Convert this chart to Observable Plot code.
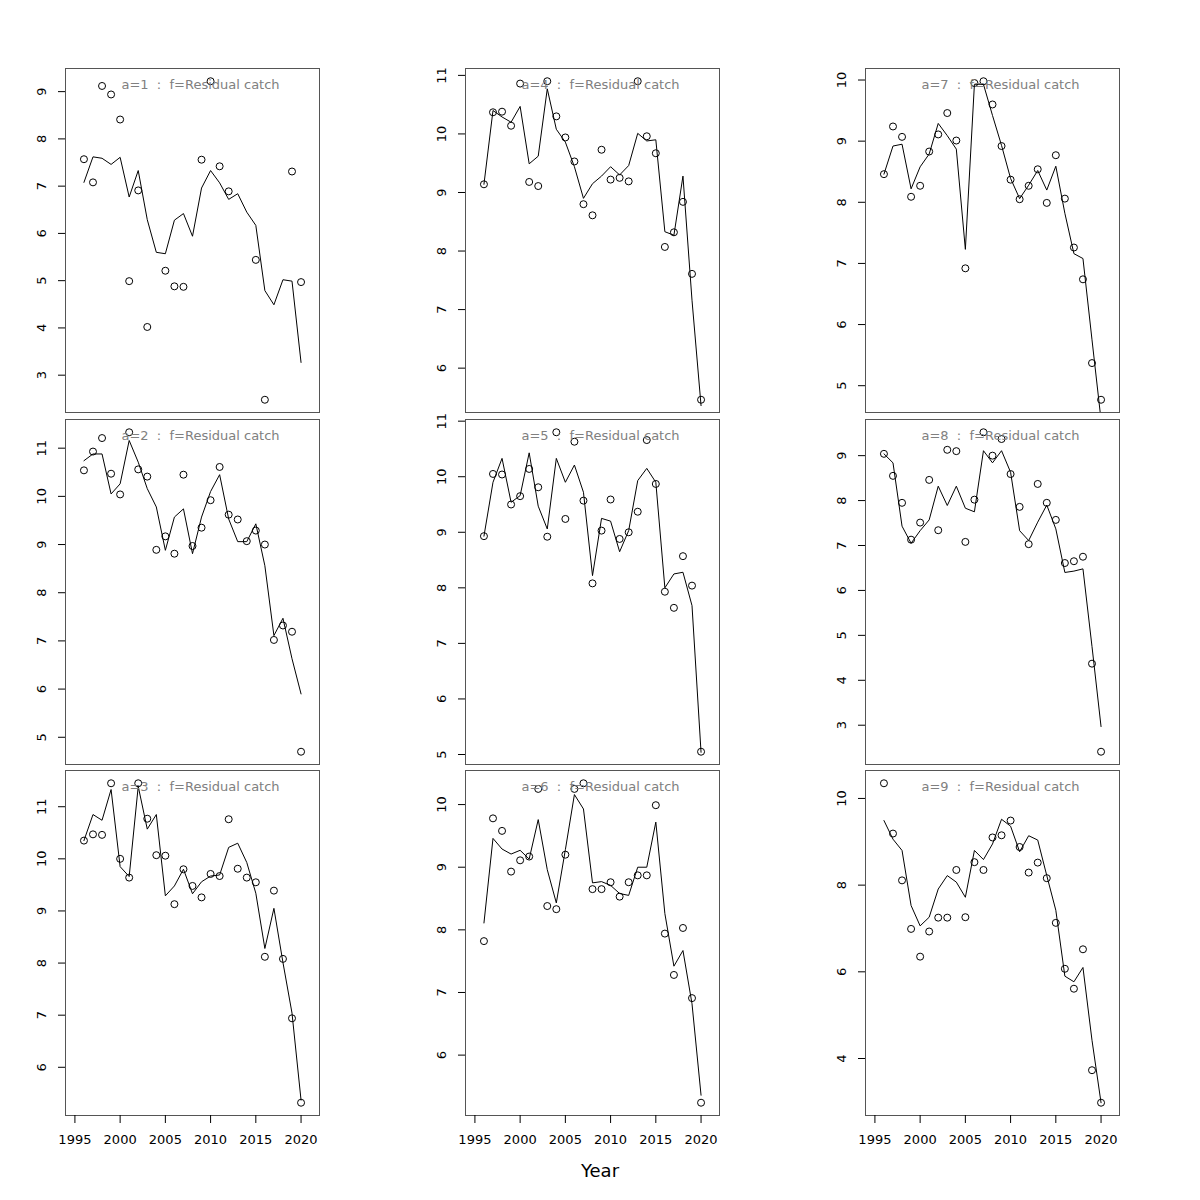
<!DOCTYPE html>
<html>
<head>
<meta charset="utf-8">
<script src="https://cdn.jsdelivr.net/npm/d3@7"></script>
<script src="https://cdn.jsdelivr.net/npm/@observablehq/plot@0.6"></script>
<style>
  body { margin: 0; background: white; font-family: "DejaVu Sans", sans-serif; }
  #wrap { position: relative; width: 1200px; height: 1200px; background: white; overflow: hidden; }
  #wrap .cell { position: absolute; }
  #wrap svg text { white-space: pre; }
  #xlabel { position: absolute; left: 0; width: 1200px; top: 1160px; text-align: center; font-size: 18px; color: #000; }
</style>
</head>
<body>
<div id="wrap"><div id="xlabel">Year</div></div>
<script>
// ---------- data ----------
const years = [1996,1997,1998,1999,2000,2001,2002,2003,2004,2005,2006,2007,2008,2009,2010,2011,2012,2013,2014,2015,2016,2017,2018,2019,2020];
const xLimits = [1995, 2021];
const xTicks = [1995, 2000, 2005, 2010, 2015, 2020];
const fleetName = "Residual catch";
const ages = [1,2,3,4,5,6,7,8,9];
const yTickStep = [1,1,1,1,1,1,1,1,2];

const obs1 = [7.57,7.08,9.12,8.94,8.41,4.99,6.91,4.02,null,5.21,4.88,4.87,null,7.56,9.22,7.42,6.89,null,null,5.44,2.48,null,null,7.31,4.97];
const fit1 = [7.08,7.62,7.59,7.46,7.61,6.77,7.33,6.29,5.60,5.57,6.28,6.42,5.94,6.96,7.33,7.07,6.72,6.84,6.45,6.17,4.79,4.49,5.02,4.99,3.27];

const obs2 = [10.54,10.93,11.21,10.47,10.04,11.33,10.56,10.41,8.89,9.17,8.81,10.45,8.97,9.35,9.92,10.61,9.62,9.52,9.07,9.29,9.00,7.02,7.32,7.19,4.70];
const fit2 = [10.74,10.88,10.88,10.05,10.26,11.16,10.71,10.16,9.78,8.88,9.57,9.74,8.81,9.57,10.10,10.45,9.53,9.06,9.06,9.43,8.56,7.11,7.47,6.63,5.90];

const obs3 = [10.35,10.47,10.46,11.45,10.00,9.64,11.45,10.77,10.07,10.06,9.13,9.80,9.48,9.26,9.71,9.67,10.76,9.81,9.64,9.55,8.12,9.39,8.08,6.94,5.32];
const fit3 = [10.35,10.85,10.74,11.33,9.85,9.66,11.39,10.57,10.85,9.29,9.48,9.80,9.33,9.56,9.67,9.69,10.22,10.30,9.93,9.34,8.28,9.05,8.01,7.04,5.37];

const obs4 = [9.14,10.37,10.38,10.14,10.86,9.18,9.11,10.90,10.30,9.94,9.53,8.80,8.61,9.73,9.22,9.25,9.19,10.90,9.96,9.67,8.07,8.32,8.84,7.61,5.46];
const fit4 = [9.14,10.40,10.29,10.20,10.47,9.49,9.62,10.77,10.08,9.86,9.44,8.90,9.15,9.28,9.44,9.30,9.46,10.01,9.88,9.90,8.33,8.27,9.28,7.16,5.36];

const obs5 = [8.93,10.05,10.04,9.50,9.65,10.14,9.81,8.92,10.80,9.24,10.63,9.57,8.08,9.03,9.59,8.88,9.00,9.37,10.66,9.87,7.93,7.64,8.57,8.04,5.05];
const fit5 = [8.93,9.90,10.33,9.54,9.66,10.43,9.47,9.06,10.33,9.90,10.21,9.72,8.22,9.25,9.20,8.65,9.03,9.93,10.15,9.90,8.00,8.25,8.28,7.68,5.04];

const obs6 = [7.82,9.78,9.58,8.93,9.11,9.17,10.25,8.38,8.33,9.20,10.25,10.34,8.65,8.65,8.76,8.53,8.76,8.87,8.87,9.99,7.94,7.28,8.03,6.91,5.24];
const fit6 = [8.11,9.46,9.29,9.21,9.27,9.13,9.76,8.96,8.43,9.28,10.16,9.93,8.75,8.77,8.71,8.58,8.55,9.00,9.00,9.72,8.26,7.42,7.67,6.82,5.36];

const obs7 = [8.46,9.24,9.07,8.09,8.27,8.83,9.11,9.46,9.01,6.92,9.95,9.98,9.60,8.92,8.37,8.05,8.27,8.54,7.99,8.77,8.06,7.26,6.74,5.37,4.77];
const fit7 = [8.46,8.92,8.95,8.22,8.58,8.79,9.29,9.09,8.87,7.23,9.93,9.93,9.42,8.93,8.39,8.06,8.28,8.52,8.20,8.59,7.82,7.16,7.08,5.75,4.44];

const obs8 = [9.04,8.55,7.95,7.13,7.51,8.46,7.34,9.13,9.10,7.08,8.02,9.52,9.00,9.37,8.59,7.86,7.03,8.37,7.95,7.57,6.61,6.65,6.75,4.37,2.41];
const fit8 = [9.04,8.84,7.43,7.05,7.33,7.57,8.32,7.89,8.32,7.83,7.75,9.11,8.84,9.11,8.63,7.33,7.11,7.52,7.90,7.37,6.40,6.43,6.48,4.75,2.97];

const obs9 = [10.35,9.19,8.11,6.99,6.35,6.93,7.25,7.25,8.35,7.26,8.53,8.35,9.10,9.15,9.49,8.88,8.29,8.52,8.16,7.13,6.07,5.61,6.52,3.73,2.98];
const fit9 = [9.49,9.06,8.80,7.53,7.06,7.26,7.91,8.22,8.07,7.72,8.80,8.59,8.95,9.52,9.36,8.77,9.14,9.04,8.22,7.42,5.90,5.77,6.10,4.42,2.98];

const observed = [obs1, obs2, obs3, obs4, obs5, obs6, obs7, obs8, obs9];
const fitted = [fit1, fit2, fit3, fit4, fit5, fit6, fit7, fit8, fit9];

// ---------- layout ----------
const wrap = document.getElementById("wrap");
const pad = (lo, hi) => { const d = (hi - lo) * 0.04; return [lo - d, hi + d]; };
const xDomain = pad(xLimits[0], xLimits[1]);
const colLeft = [0, 400, 800];
const rowTop = [48, 399, 750];
const plotH = [344, 345, 345];

ages.forEach((a, i) => {
  const col = Math.floor(i / 3), row = i % 3;
  const bottom = row === 2;
  const pts = years.map((y, k) => ({year: y, v: observed[i][k]}));
  const fit = years.map((y, k) => ({year: y, v: fitted[i][k]}));
  const ext = d3.extent(pts.filter(d => d.v != null), d => d.v);
  const yDomain = pad(ext[0], ext[1]);
  const step = yTickStep[i];
  const yTicks = d3.range(Math.ceil(yDomain[0] / step) * step, yDomain[1] + 1e-9, step);
  const mb = bottom ? 45 : 5;
  const marks = [
    Plot.frame({stroke: "#555", strokeWidth: 1}),
    Plot.axisY({ticks: yTicks, tickRotate: -90, tickSize: 7, tickPadding: 13, fontSize: 13, label: null, tickFormat: d => String(d)}),
    Plot.line(fit, {x: "year", y: "v", stroke: "#000", strokeWidth: 1, clip: true}),
    Plot.dot(pts, {x: "year", y: "v", r: 3.5, stroke: "#000", fill: "none", strokeWidth: 1}),
    Plot.text([`a=${a}  :  f=${fleetName}`], {frameAnchor: "top", dy: 11, dx: 8, fill: "#808080", fontSize: 13})
  ];
  if (bottom) marks.push(Plot.axisX({ticks: xTicks, tickSize: 8, tickPadding: 11, fontSize: 13, label: null, tickFormat: d => String(d)}));
  const chart = Plot.plot({
    width: 400,
    height: 20 + plotH[row] + mb,
    marginLeft: 65, marginRight: 81, marginTop: 20, marginBottom: mb,
    style: {background: "transparent", overflow: "visible", fontFamily: "DejaVu Sans", fontSize: "13px", color: "#000"},
    x: {domain: xDomain, axis: null},
    y: {domain: yDomain, axis: null},
    marks
  });
  chart.classList.add("cell");
  chart.style.left = colLeft[col] + "px";
  chart.style.top = rowTop[row] + "px";
  wrap.appendChild(chart);
});
</script>
</body>
</html>
